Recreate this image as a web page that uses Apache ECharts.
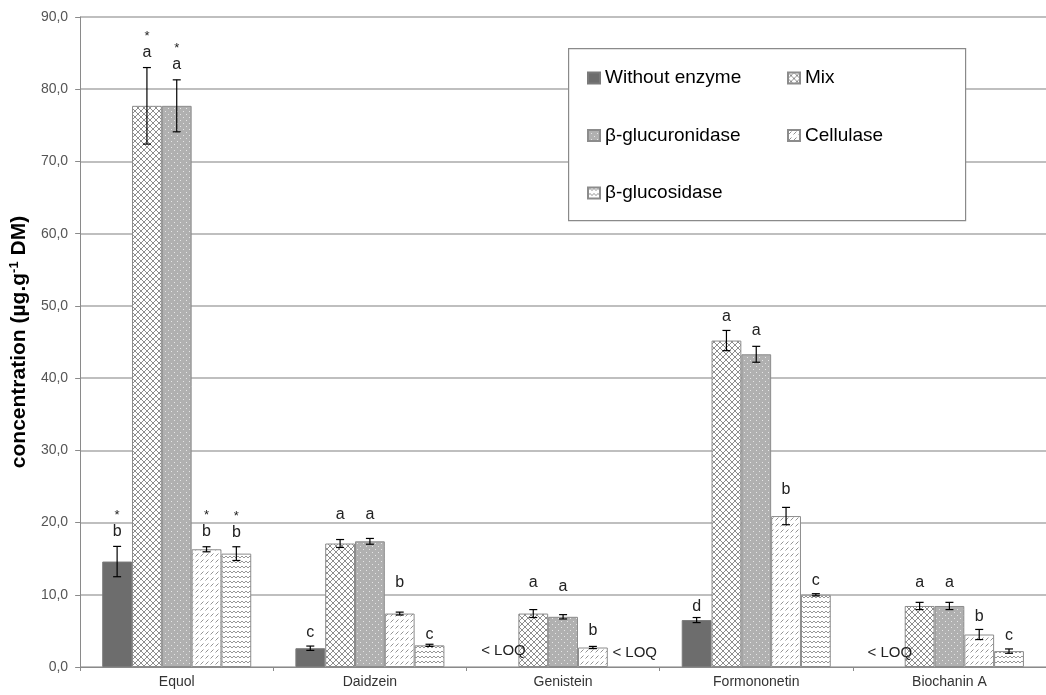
<!DOCTYPE html>
<html>
<head>
<meta charset="utf-8">
<title>Isoflavone concentration by enzyme treatment</title>
<script src="https://cdn.jsdelivr.net/npm/echarts@6/dist/echarts.min.js"></script>
<style>
  html, body { margin: 0; padding: 0; background: #fff; }
  #chart { width: 1046px; height: 695px; }
</style>
</head>
<body>
<div id="chart"></div>
<script>
// ---- data ----
const categories = ['Equol', 'Daidzein', 'Genistein', 'Formononetin', 'Biochanin A'];
const treatments = ['Without enzyme', 'Mix', 'β-glucuronidase', 'Cellulase', 'β-glucosidase'];
const yTickValues = [0, 10, 20, 30, 40, 50, 60, 70, 80, 90];

// mean concentrations (µg/g DM); null = below limit of quantification
const withoutEnzyme = [14.6, 2.6, null, 6.5, null];
const mix           = [77.7, 17.1, 7.4, 45.2, 8.45];
const glucuronidase = [77.7, 17.4, 6.95, 43.3, 8.45];
const cellulase     = [16.3, 7.4, 2.7, 20.9, 4.5];
const glucosidase   = [15.7, 3.0, null, 10.0, 2.2];

// standard deviations
const withoutEnzymeSd = [2.1, 0.3, null, 0.35, null];
const mixSd           = [5.3, 0.55, 0.55, 1.4, 0.5];
const glucuronidaseSd = [3.6, 0.4, 0.3, 1.1, 0.5];
const cellulaseSd     = [0.35, 0.2, 0.15, 1.2, 0.7];
const glucosidaseSd   = [0.95, 0.15, null, 0.15, 0.3];

// statistical groups
const withoutEnzymeLetters = ['b', 'c', '< LOQ', 'd', '< LOQ'];
const mixLetters           = ['a', 'a', 'a', 'a', 'a'];
const glucuronidaseLetters = ['a', 'a', 'a', 'a', 'a'];
const cellulaseLetters     = ['b', 'b', 'b', 'b', 'b'];
const glucosidaseLetters   = ['b', 'c', '< LOQ', 'c', 'c'];
const starredCategories    = ['Equol'];

// height (axis units) at which each group letter is written
const withoutEnzymeLetterAt = [18.8, 4.8, 2.2, 8.4, 2.0];
const mixLetterAt           = [85.1, 21.1, 11.7, 48.5, 11.7];
const glucuronidaseLetterAt = [83.4, 21.1, 11.2, 46.6, 11.7];
const cellulaseLetterAt     = [18.8, 11.7, 5.0, 24.5, 7.0];
const glucosidaseLetterAt   = [18.6, 4.5, 1.9, 11.9, 4.4];

// ---- fill patterns ----
function makePattern(w, h, draw) {
  const c = document.createElement('canvas');
  c.width = w; c.height = h;
  const g = c.getContext('2d');
  draw(g, w, h);
  return { image: c, repeat: 'repeat' };
}
const crossHatch = makePattern(6, 6, (g, w, h) => {
  g.fillStyle = '#fff'; g.fillRect(0, 0, w, h);
  g.strokeStyle = '#8e8e8e'; g.lineWidth = 1;
  g.beginPath(); g.moveTo(0, 0); g.lineTo(w, h); g.moveTo(w, 0); g.lineTo(0, h); g.stroke();
});
const dotted = makePattern(6, 6, (g, w, h) => {
  g.fillStyle = '#b0b0b0'; g.fillRect(0, 0, w, h);
  g.fillStyle = '#e6e6e6'; g.fillRect(0, 0, 1, 1); g.fillRect(3, 3, 1, 1);
});
const dashes = makePattern(5, 6, (g, w, h) => {
  g.fillStyle = '#fff'; g.fillRect(0, 0, w, h);
  g.strokeStyle = '#939393'; g.lineWidth = 1;
  g.beginPath(); g.moveTo(0.5, 4.5); g.lineTo(3.5, 1.5); g.stroke();
});
const zigzag = makePattern(4, 5, (g, w, h) => {
  g.fillStyle = '#fff'; g.fillRect(0, 0, w, h);
  g.strokeStyle = '#969696'; g.lineWidth = 1;
  g.beginPath(); g.moveTo(0, 3); g.lineTo(2, 1); g.lineTo(4, 3); g.stroke();
});

const fills = ['#6d6d6d', crossHatch, dotted, dashes, zigzag];
const values = [withoutEnzyme, mix, glucuronidase, cellulase, glucosidase];
const sds = [withoutEnzymeSd, mixSd, glucuronidaseSd, cellulaseSd, glucosidaseSd];
const letters = [withoutEnzymeLetters, mixLetters, glucuronidaseLetters, cellulaseLetters, glucosidaseLetters];
const letterAt = [withoutEnzymeLetterAt, mixLetterAt, glucuronidaseLetterAt, cellulaseLetterAt, glucosidaseLetterAt];

const BAR_RATIO = 0.1543;

// annotation list: error bars + group letters
const annotations = [];
treatments.forEach((name, t) => {
  categories.forEach((cat, c) => {
    annotations.push({
      cat: c, t: t,
      value: values[t][c], sd: sds[t][c],
      letter: letters[t][c], at: letterAt[t][c],
      star: starredCategories.indexOf(cat) >= 0
    });
  });
});

const barSeries = treatments.map((name, t) => ({
  name: name,
  type: 'bar',
  barWidth: (BAR_RATIO * 100) + '%',
  barGap: '0%',
  data: values[t],
  itemStyle: {
    color: fills[t],
    borderColor: t === 0 ? '#7a7a7a' : '#8c8c8c',
    borderWidth: 1
  },
  emphasis: { disabled: true }
}));

const annotationSeries = {
  type: 'custom',
  silent: true,
  z: 5,
  data: annotations.map(a => [a.cat, a.at]),
  encode: { x: 0, y: 1 },
  renderItem: function (params, api) {
    const a = annotations[params.dataIndex];
    const base = api.coord([a.cat, 0]);
    const catW = api.size([1, 0])[0];
    const x = base[0] + (a.t - 2) * catW * BAR_RATIO;
    const children = [];
    const stroke = { stroke: '#000', lineWidth: 1.2 };
    if (a.value != null && a.sd != null) {
      const top = api.coord([a.cat, a.value + a.sd])[1];
      const bot = api.coord([a.cat, a.value - a.sd])[1];
      children.push({ type: 'line', shape: { x1: x, y1: top, x2: x, y2: bot }, style: stroke });
      children.push({ type: 'line', shape: { x1: x - 4, y1: top, x2: x + 4, y2: top }, style: stroke });
      children.push({ type: 'line', shape: { x1: x - 4, y1: bot, x2: x + 4, y2: bot }, style: stroke });
    }
    const ly = api.coord([a.cat, a.at])[1];
    const isLoq = a.letter.indexOf('LOQ') >= 0;
    // "< LOQ" after the last bar of a group sits just right of it
    const tx = isLoq && a.t === 4 ? x + 12 : x;
    children.push({
      type: 'text',
      x: tx, y: ly,
      style: {
        text: a.letter,
        fill: '#222',
        font: (isLoq ? '15px' : '16px') + ' "Liberation Sans", Arial, sans-serif',
        textAlign: 'center',
        textVerticalAlign: 'middle'
      }
    });
    if (a.star) {
      children.push({
        type: 'text',
        x: x, y: ly - 16,
        style: {
          text: '*',
          fill: '#222',
          font: '13px "Liberation Sans", Arial, sans-serif',
          textAlign: 'center',
          textVerticalAlign: 'middle'
        }
      });
    }
    return { type: 'group', children: children };
  }
};

const legendCommon = {
  orient: 'vertical',
  top: 68,
  itemWidth: 12,
  itemHeight: 11,
  itemGap: 37.5,
  itemTextGap: 4,
  padding: 0,
  icon: 'rect',
  selectedMode: false,
  z: 6,
  textStyle: { fontSize: 19, lineHeight: 20, color: '#000', fontFamily: '"Liberation Sans", Arial, sans-serif' }
};

const chart = echarts.init(document.getElementById('chart'), null, { renderer: 'canvas' });
chart.setOption({
  animation: false,
  backgroundColor: '#fff',
  textStyle: { fontFamily: '"Liberation Sans", Arial, sans-serif' },
  grid: { left: 78, right: -4, top: 17, bottom: 28, containLabel: false },
  graphic: [{
    type: 'rect',
    left: 568, top: 48,
    z: 5,
    shape: { width: 397, height: 172 },
    style: { fill: '#fff', stroke: '#8a8a8a', lineWidth: 1.2 }
  }],
  legend: [
    Object.assign({ left: 587, data: [treatments[0], treatments[2], treatments[4]] }, legendCommon),
    Object.assign({ left: 787, data: [treatments[1], treatments[3]] }, legendCommon)
  ],
  xAxis: {
    type: 'category',
    data: categories,
    axisLine: { lineStyle: { color: '#8a8a8a', width: 1 } },
    axisTick: { show: true, length: 4, lineStyle: { color: '#8a8a8a' } },
    axisLabel: { fontSize: 14, color: '#333', margin: 8 },
    splitLine: { show: false }
  },
  yAxis: {
    type: 'value',
    min: 0, max: 90, interval: 10,
    name: 'concentration (µg.g{sup|-1} DM)',
    nameLocation: 'middle',
    nameGap: 46,
    nameTextStyle: {
      fontSize: 21, fontWeight: 'bold', color: '#000',
      rich: { sup: { fontSize: 13, fontWeight: 'bold', color: '#000', padding: [0, 0, 10, 0] } }
    },
    axisLine: { show: true, lineStyle: { color: '#8a8a8a', width: 1 } },
    axisTick: { show: true, length: 5, lineStyle: { color: '#8a8a8a' } },
    axisLabel: {
      fontSize: 14, color: '#555', margin: 12,
      formatter: v => yTickValues.indexOf(v) >= 0 ? v.toFixed(1).replace('.', ',') : ''
    },
    splitLine: { show: true, lineStyle: { color: '#aaaaaa', width: 1.5 } }
  },
  series: barSeries.concat([annotationSeries])
});
</script>
</body>
</html>
